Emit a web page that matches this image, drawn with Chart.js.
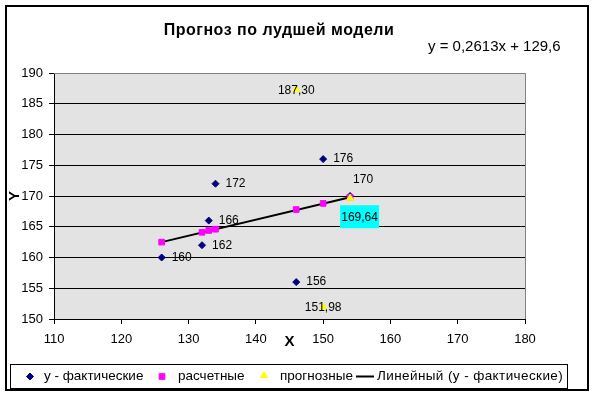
<!DOCTYPE html>
<html><head><meta charset="utf-8">
<script src="https://cdn.jsdelivr.net/npm/chart.js@4"></script>
<style>html,body{margin:0;padding:0;background:#fff}</style>
</head><body>
<canvas id="c" width="595" height="397"></canvas>
<script>
const TITLE = 'Прогноз по лудшей модели';
const EQUATION = 'y = 0,2613x + 129,6';
const SERIES_NAMES = ['у - фактические', 'расчетные', 'прогнозные', 'Линейный (у - фактические)'];
const X_ACTUAL = [126, 132, 133, 134, 146, 150, 154];
const Y_ACTUAL = [160, 162, 166, 172, 156, 176, 170];
const X_CALC = [126, 132, 133, 134, 146, 150, 154];
const Y_CALC = [162.5, 164.1, 164.4, 164.6, 167.8, 168.8, 169.8];
const X_FORECAST = [146, 150, 154];
const Y_FORECAST = [187.30, 151.98, 169.64];
const TREND_X = [126, 154];
const TREND_Y = [162.5, 169.8];
const X_TICKS = [110, 120, 130, 140, 150, 160, 170, 180];
const Y_TICKS = [150, 155, 160, 165, 170, 175, 180, 185, 190];

const FONT = '"Liberation Sans", Arial, sans-serif';
const pts = (xs, ys) => xs.map((x, i) => ({x, y: ys[i]}));
const fmt = v => v.toFixed(2).replace('.', ',');

const decor = {
  id: 'decor',
  beforeDraw(chart) {
    const {ctx, chartArea: a} = chart;
    ctx.save();
    ctx.fillStyle = '#fff';
    ctx.fillRect(0, 0, chart.width, chart.height);
    ctx.fillStyle = '#E3E3E3';
    ctx.fillRect(a.left, a.top, a.right - a.left, a.bottom - a.top);
    ctx.restore();
  },
  beforeDatasetsDraw(chart) {
    const {ctx, chartArea: a} = chart;
    ctx.save();
    ctx.strokeStyle = '#808080';
    ctx.lineWidth = 1;
    ctx.beginPath();
    ctx.moveTo(a.left, a.top + 0.5);
    ctx.lineTo(a.right + 0.5, a.top + 0.5);
    ctx.lineTo(a.right + 0.5, a.bottom);
    ctx.stroke();
    ctx.restore();
  },
  afterDraw(chart) {
    const {ctx} = chart;
    ctx.save();
    ctx.strokeStyle = '#000';
    ctx.lineWidth = 2;
    ctx.strokeRect(6, 6, 582, 384);
    ctx.fillStyle = '#000';
    ctx.textBaseline = 'middle';
    ctx.textAlign = 'center';
    ctx.font = 'bold 16px ' + FONT;
    ctx.letterSpacing = '0.5px';
    ctx.fillText(TITLE, 279, 31);
    ctx.letterSpacing = '0px';
    ctx.textAlign = 'left';
    ctx.font = '15px ' + FONT;
    ctx.fillText(EQUATION, 428, 47);

    ctx.font = '12px ' + FONT;
    const mA = chart.getDatasetMeta(1);
    mA.data.forEach((p, i) => {
      const t = String(Y_ACTUAL[i]);
      ctx.textAlign = 'left';
      if (i === mA.data.length - 1) ctx.fillText(t, p.x + 3, p.y - 16);
      else ctx.fillText(t, p.x + 10, p.y);
    });
    const mF = chart.getDatasetMeta(3);
    mF.data.forEach((p, i) => {
      const t = fmt(Y_FORECAST[i]);
      ctx.textAlign = 'center';
      if (i === mF.data.length - 1) {
        ctx.fillStyle = '#00FFFF';
        ctx.fillRect(p.x - 10, p.y + 7, 39, 23);
        ctx.fillStyle = '#000';
        ctx.fillText(t, p.x + 9.5, p.y + 19);
      } else {
        ctx.fillText(t, p.x, p.y + 1);
      }
    });

    // legend
    ctx.lineWidth = 1;
    ctx.strokeStyle = '#000';
    ctx.strokeRect(10.5, 364.5, 557, 24);
    const ly = 376.5;
    const ds = chart.data.datasets;
    ctx.font = '13.5px ' + FONT;
    ctx.textAlign = 'left';
    ctx.fillStyle = ds[1].backgroundColor; ctx.strokeStyle = ds[1].borderColor;
    Chart.helpers.drawPoint(ctx, {pointStyle: 'rectRot', radius: 3.5, borderWidth: 1}, 30, ly);
    ctx.fillStyle = ds[2].backgroundColor; ctx.strokeStyle = ds[2].borderColor;
    Chart.helpers.drawPoint(ctx, {pointStyle: 'rect', radius: 4, borderWidth: 1}, 162, ly);
    ctx.fillStyle = ds[3].backgroundColor; ctx.strokeStyle = ds[3].borderColor;
    Chart.helpers.drawPoint(ctx, {pointStyle: 'triangle', radius: 4, borderWidth: 1}, 264, ly - 1);
    ctx.strokeStyle = '#000'; ctx.lineWidth = 2;
    ctx.beginPath(); ctx.moveTo(356, ly); ctx.lineTo(374, ly); ctx.stroke();
    ctx.fillStyle = '#000';
    ctx.fillText(SERIES_NAMES[0], 44, ly);
    ctx.fillText(SERIES_NAMES[1], 178, ly);
    ctx.fillText(SERIES_NAMES[2], 280, ly);
    ctx.letterSpacing = '0.4px';
    ctx.fillText(SERIES_NAMES[3], 377, ly);
    ctx.letterSpacing = '0px';
    ctx.restore();
  }
};

new Chart(document.getElementById('c'), {
  type: 'scatter',
  data: {
    datasets: [
      {label: SERIES_NAMES[3], data: pts(TREND_X, TREND_Y), showLine: true, pointRadius: 0,
       borderColor: '#000', borderWidth: 2, order: 4},
      {label: SERIES_NAMES[0], data: pts(X_ACTUAL, Y_ACTUAL), pointStyle: 'rectRot', pointRadius: 3.5,
       backgroundColor: '#000080', borderColor: '#000080', borderWidth: 1, order: 3},
      {label: SERIES_NAMES[1], data: pts(X_CALC, Y_CALC), pointStyle: 'rect', pointRadius: 4,
       backgroundColor: '#FF00FF', borderColor: '#FF00FF', borderWidth: 1, order: 2},
      {label: SERIES_NAMES[2], data: pts(X_FORECAST, Y_FORECAST), pointStyle: 'triangle', pointRadius: 4,
       backgroundColor: '#FFFF00', borderColor: '#FFFF00', borderWidth: 1, order: 1}
    ]
  },
  options: {
    responsive: false,
    animation: false,
    devicePixelRatio: 1,
    layout: {padding: {top: 73, right: 70, bottom: 0, left: 0}},
    plugins: {legend: {display: false}, title: {display: false}, tooltip: {enabled: false}},
    scales: {
      x: {
        type: 'linear', min: 110, max: 180,
        afterBuildTicks: s => { s.ticks = X_TICKS.map(v => ({value: v})); },
        afterFit: s => { s.height = 78; },
        ticks: {color: '#000', font: {family: FONT, size: 13}, padding: 8, maxRotation: 0},
        grid: {drawOnChartArea: false, color: '#000', tickLength: 5},
        border: {color: '#000', width: 1},
        title: {display: true, text: 'X', color: '#000', font: {family: FONT, size: 15, weight: 'bold'},
                padding: {top: 0, bottom: 46}}
      },
      y: {
        type: 'linear', min: 150, max: 190,
        afterBuildTicks: s => { s.ticks = Y_TICKS.map(v => ({value: v})); },
        afterFit: s => { s.width = 54; },
        ticks: {color: '#000', font: {family: FONT, size: 13}, padding: 6},
        grid: {color: '#000', tickLength: 5},
        border: {color: '#000', width: 1},
        title: {display: true, text: 'Y', color: '#000', font: {family: FONT, size: 15, weight: 'bold'},
                padding: {top: 6, bottom: 0}}
      }
    }
  },
  plugins: [decor]
});
</script>
</body></html>
